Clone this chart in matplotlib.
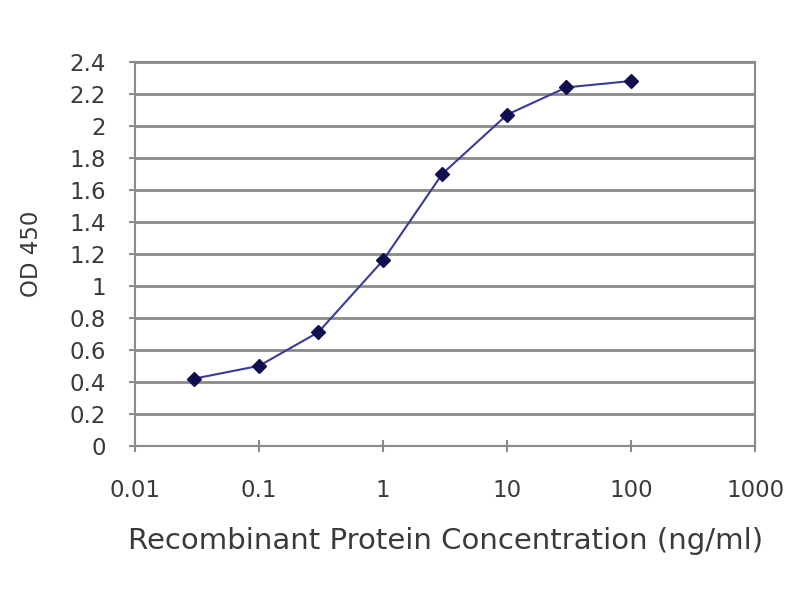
import numpy as np
import matplotlib.pyplot as plt
from matplotlib.ticker import FixedLocator, NullLocator

# Datos
conc = [0.03, 0.1, 0.3, 1, 3, 10, 30, 100]
od450 = [0.42, 0.50, 0.71, 1.16, 1.70, 2.07, 2.24, 2.28]
x_ticks = [0.01, 0.1, 1, 10, 100, 1000]
x_labels = ['0.01', '0.1', '1', '10', '100', '1000']
y_ticks = [0, 0.2, 0.4, 0.6, 0.8, 1, 1.2, 1.4, 1.6, 1.8, 2, 2.2, 2.4]
y_labels = ['0', '0.2', '0.4', '0.6', '0.8', '1', '1.2', '1.4', '1.6', '1.8', '2', '2.2', '2.4']

plt.rcParams['font.family'] = ['DejaVu Sans']

fig = plt.figure(figsize=(8, 6), dpi=100)
ax = fig.add_axes([0.169, 0.257, 0.775, 0.640])

ax.plot(conc, od450, color='#3a3a9a', linewidth=1.5,
        marker='D', markersize=7, markerfacecolor='#101050',
        markeredgecolor='#101050', zorder=3)

ax.set_xscale('log')
ax.set_xlim(0.01, 1000)
ax.set_ylim(0, 2.4)
ax.xaxis.set_major_locator(FixedLocator(x_ticks))
ax.xaxis.set_minor_locator(NullLocator())
ax.set_xticklabels(x_labels)
ax.set_yticks(y_ticks)
ax.set_yticklabels(y_labels)

ax.yaxis.grid(True, color='#8a8a8a', linewidth=2)
ax.set_axisbelow(True)
for s in ax.spines.values():
    s.set_color('#8a8a8a')
    s.set_linewidth(1.5)

ax.tick_params(axis='both', colors='#8a8a8a', labelcolor='#3a3a3a',
               labelsize=16.5, width=1.5)
ax.tick_params(axis='y', length=4, pad=17)
ax.tick_params(axis='x', direction='inout', length=8, pad=20)

ax.set_ylabel('OD 450', fontsize=16.5, color='#3a3a3a', labelpad=19)
ax.set_xlabel('Recombinant Protein Concentration (ng/ml)', fontsize=21,
              color='#3a3a3a', labelpad=18)

fig.savefig('out.png', dpi=100)
